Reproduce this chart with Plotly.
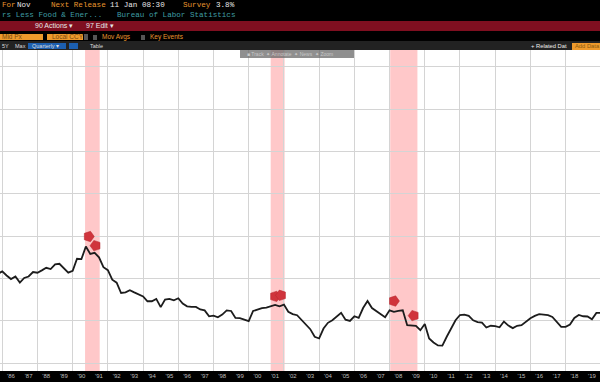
import plotly.graph_objects as go

core_cpi = [
 4.22,4.33,4.14,3.97,4.09,3.80,4.02,4.09,4.30,4.27,4.38,4.50,4.44,4.66,4.69,4.49,4.27,4.36,4.93,4.91,
 5.51,5.16,5.21,5.00,4.53,4.39,3.94,3.80,3.31,3.34,3.44,3.34,3.25,3.15,2.92,2.92,3.03,2.64,3.00,3.03,
 2.96,3.06,2.81,2.68,2.65,2.65,2.53,
 2.49,2.21,2.24,2.16,2.29,2.49,2.46,2.13,2.12,2.05,1.98,2.46,2.53,2.59,2.62,2.70,2.75,2.68,2.76,2.42,
 2.31,2.26,2.02,1.79,1.60,1.24,1.16,1.63,1.90,2.02,2.18,2.37,2.05,1.99,2.21,2.13,2.60,2.93,2.60,2.46,
 2.29,2.16,2.49,2.42,2.46,
 2.49,1.79,1.79,1.76,1.55,1.84,1.16,0.97,0.83,0.82,1.24,1.63,2.02,2.27,2.29,2.23,2.02,1.93,1.91,1.68,
 1.76,1.74,1.69,1.96,1.77,1.65,1.76,1.79,1.95,2.12,2.23,2.31,2.29,2.26,2.18,1.95,1.71,1.71,1.82,2.13,
 2.27,2.21,2.20,2.07,2.37,2.37,
]
start_year, start_month = 1985, 10
dates = []
for i in range(len(core_cpi)):
    m = start_month - 1 + 3 * i
    dates.append(f"{start_year + m // 12}-{m % 12 + 1:02d}-01")

year_labels = ["'86","'87","'88","'89","'90","'91","'92","'93","'94","'95","'96","'97","'98","'99","'00","'01","'02",
               "'03","'04","'05","'06","'07","'08","'09","'10","'11","'12","'13","'14","'15","'16","'17","'18","'19"]
label_dates = [f"{1986 + i}-07-01" for i in range(len(year_labels))]
grid_dates = [f"{y}-01-01" for y in range(1986, 2021, 2)]

recessions = [("1990-09-15", "1991-07-15"), ("2001-04-01", "2002-01-15"), ("2008-01-15", "2009-08-01")]
event_dates = ["1990-12-01", "1991-04-20", "2001-07-01", "2001-11-01", "2008-04-01", "2009-05-15"]
event_values = [5.98, 5.55, 3.15, 3.2, 2.93, 2.24]
event_angles = [90, 270, 90, 270, 90, 270]

RED = "#7f0f20"
ORANGE = "#e8962e"
TEAL = "#3f9da3"
GRID = "#d4d4d4"
Y_TOP = 332 / 382
ypx = lambda p: 1 - p / 382
xpx = lambda p: p / 600

fig = go.Figure()
fig.add_trace(go.Scatter(x=dates, y=core_cpi, mode="lines",
                         line=dict(color="#1c1c1c", width=1.8), showlegend=False, hoverinfo="skip"))
fig.add_trace(go.Scatter(x=event_dates, y=event_values, mode="markers", showlegend=False, hoverinfo="skip",
                         marker=dict(symbol="pentagon", size=11, color="#d0343c", angle=event_angles,
                                     line=dict(color="#b5242c", width=0.5))))

shapes = []
for a, b in recessions:
    shapes.append(dict(type="rect", xref="x", yref="y domain", x0=a, x1=b, y0=0, y1=1,
                       fillcolor="#ffc8c9", line=dict(width=0), layer="below"))
def band(x0, x1, y0, y1, color, layer="above"):
    shapes.append(dict(type="rect", xref="paper", yref="paper", x0=xpx(x0), x1=xpx(x1),
                       y0=ypx(y1), y1=ypx(y0), fillcolor=color, line=dict(width=0), layer=layer))
band(0, 600, 21, 31, RED)
band(0, 600, 41, 50, "#222222")
band(0, 43, 34, 40, "#ee9a2c")
band(47, 83, 34, 40, "#ee9a2c")
band(84, 88, 34, 40, "#555555")
band(93, 97, 35, 40, "#555555")
band(141, 145, 35, 40, "#555555")
band(28, 66, 43, 49, "#1c5fb0")
band(69, 78, 43, 49, "#1c5fb0")
band(240, 354, 50, 58, "rgba(105,105,105,0.75)")
band(572, 600, 43, 50, "#ee9a2c")

notes = [
 (0, 5, "For", ORANGE, "Liberation Mono", 7.6), (15, 5, "Nov", "#e6e6e6", "Liberation Mono", 7.6),
 (49, 5, "Next Release", ORANGE, "Liberation Mono", 7.6), (108, 5, "11 Jan 08:30", "#e6e6e6", "Liberation Mono", 7.6),
 (181, 5, "Survey", ORANGE, "Liberation Mono", 7.6), (214, 5, "3.8%", "#e6e6e6", "Liberation Mono", 7.6),
 (0, 15, "rs Less Food & Ener...", TEAL, "Liberation Mono", 7.6),
 (115, 15, "Bureau of Labor Statistics", TEAL, "Liberation Mono", 7.6),
 (33, 25, "90 Actions \u25be", "#e8e8e8", "Liberation Sans", 7), (84, 25, "97 Edit \u25be", "#e8e8e8", "Liberation Sans", 7),
 (0, 37, "Mid Px", "#7a4a10", "Liberation Sans", 6.5), (50, 37, "Local CCY", "#7a4a10", "Liberation Sans", 6.5),
 (100, 37, "Mov Avgs", ORANGE, "Liberation Sans", 6.5), (148, 37, "Key Events", ORANGE, "Liberation Sans", 6.5),
 (0, 46, "5Y", "#dddddd", "Liberation Sans", 5.5), (13, 46, "Max", "#dddddd", "Liberation Sans", 5.5),
 (30, 46, "Quarterly \u25be", "#dddddd", "Liberation Sans", 5.5), (88, 46, "Table", "#dddddd", "Liberation Sans", 5.5),
 (529, 46, "+ Related Dat", "#eeeeee", "Liberation Sans", 5.8), (573, 46, "Add Data", "#8a5a10", "Liberation Sans", 5.8),
 (245, 54, "\u25a0 Track  \u2726 Annotate  \u2726 News  \u2726 Zoom", "#c8c8c8", "Liberation Sans", 5),
]
annotations = [dict(xref="paper", yref="paper", x=xpx(x), y=ypx(y), text=t, showarrow=False,
                    xanchor="left", yanchor="middle", font=dict(color=c, family=f, size=s))
               for x, y, t, c, f, s in notes]

fig.update_layout(
    width=600, height=382, margin=dict(l=0, r=0, t=0, b=0),
    paper_bgcolor="#000000", plot_bgcolor="#ffffff", showlegend=False,
    shapes=shapes, annotations=annotations,
    xaxis=dict(type="date", range=["1985-11-15", "2019-12-15"], tickmode="array",
               tickvals=label_dates, ticktext=year_labels, showgrid=False, ticks="", zeroline=False,
               tickfont=dict(color="#bdbdbd", size=6, family="Liberation Sans"),
               minor=dict(tickmode="array", tickvals=grid_dates, showgrid=True, gridcolor=GRID, gridwidth=1, ticks=""),
               domain=[0, 1], automargin=False),
    yaxis=dict(range=[-0.378, 14.8], tick0=0, dtick=2, showgrid=True, gridcolor=GRID, gridwidth=1,
               showticklabels=False, ticks="", zeroline=False, domain=[11 / 382, Y_TOP], automargin=False),
)
fig.write_html("out.html", config={"displayModeBar": False},
               post_script="document.body.style.margin='0';document.documentElement.style.background='#000';document.body.style.overflow='hidden';")
